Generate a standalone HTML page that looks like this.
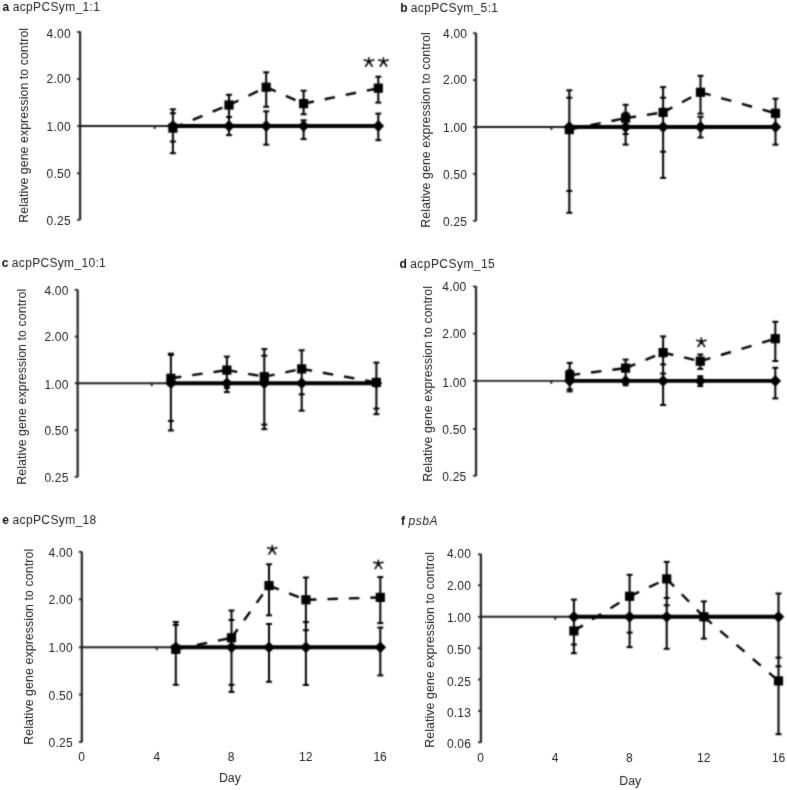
<!DOCTYPE html>
<html><head><meta charset="utf-8"><style>
html,body{margin:0;padding:0;background:#fff;width:787px;height:790px;overflow:hidden;}
svg{display:block;filter:grayscale(1);}
text{font-family:"Liberation Sans", sans-serif;}
</style></head><body>
<svg width="787" height="790" viewBox="0 0 787 790">
<defs><filter id="bl" x="0" y="0" width="787" height="790" filterUnits="userSpaceOnUse" color-interpolation-filters="sRGB"><feConvolveMatrix order="5" edgeMode="duplicate" preserveAlpha="false" kernelMatrix="0.00009 0.00198 0.00548 0.00198 0.00009 0.00198 0.04220 0.11707 0.04220 0.00198 0.00548 0.11707 0.32480 0.11707 0.00548 0.00198 0.04220 0.11707 0.04220 0.00198 0.00009 0.00198 0.00548 0.00198 0.00009"/></filter>
<filter id="bt" x="0" y="0" width="787" height="790" filterUnits="userSpaceOnUse" color-interpolation-filters="sRGB"><feConvolveMatrix order="5" edgeMode="duplicate" preserveAlpha="false" kernelMatrix="0.00000 0.00000 0.00004 0.00000 0.00000 0.00000 0.00524 0.06191 0.00524 0.00000 0.00004 0.06191 0.73124 0.06191 0.00004 0.00000 0.00524 0.06191 0.00524 0.00000 0.00000 0.00000 0.00004 0.00000 0.00000"/></filter></defs>
<rect width="787" height="790" fill="#fff"/>
<g filter="url(#bt)">
<text x="2.6" y="10.6" font-size="12" font-weight="bold" fill="#111">a</text>
<text x="12.7" y="10.6" font-size="12" fill="#222" textLength="87.3" lengthAdjust="spacing">acpPCSym_1:1</text>
<text x="70.6" y="37.65" font-size="12" text-anchor="end" fill="#222" textLength="24" lengthAdjust="spacing">4.00</text>
<text x="70.6" y="83.25" font-size="12" text-anchor="end" fill="#222" textLength="24" lengthAdjust="spacing">2.00</text>
<text x="70.6" y="130.65" font-size="12" text-anchor="end" fill="#222" textLength="24" lengthAdjust="spacing">1.00</text>
<text x="70.6" y="177.8" font-size="12" text-anchor="end" fill="#222" textLength="24" lengthAdjust="spacing">0.50</text>
<text x="70.6" y="225" font-size="12" text-anchor="end" fill="#222" textLength="24" lengthAdjust="spacing">0.25</text>
<text transform="translate(28,222.7) rotate(-90)" font-size="12.4" fill="#222" textLength="194.8" lengthAdjust="spacing">Relative gene expression to control</text>
<text x="400.3" y="11.6" font-size="12" font-weight="bold" fill="#111">b</text>
<text x="410.8" y="11.6" font-size="12" fill="#222" textLength="87.2" lengthAdjust="spacing">acpPCSym_5:1</text>
<text x="467" y="37.65" font-size="12" text-anchor="end" fill="#222" textLength="24" lengthAdjust="spacing">4.00</text>
<text x="467" y="84.15" font-size="12" text-anchor="end" fill="#222" textLength="24" lengthAdjust="spacing">2.00</text>
<text x="467" y="131.65" font-size="12" text-anchor="end" fill="#222" textLength="24" lengthAdjust="spacing">1.00</text>
<text x="467" y="178.6" font-size="12" text-anchor="end" fill="#222" textLength="24" lengthAdjust="spacing">0.50</text>
<text x="467" y="225.65" font-size="12" text-anchor="end" fill="#222" textLength="24" lengthAdjust="spacing">0.25</text>
<text transform="translate(429.8,227.7) rotate(-90)" font-size="12.4" fill="#222" textLength="195.4" lengthAdjust="spacing">Relative gene expression to control</text>
<text x="1.8" y="266.5" font-size="12" font-weight="bold" fill="#111">c</text>
<text x="11.8" y="266.5" font-size="12" fill="#222" textLength="94" lengthAdjust="spacing">acpPCSym_10:1</text>
<text x="68.4" y="294.65" font-size="12" text-anchor="end" fill="#222" textLength="24" lengthAdjust="spacing">4.00</text>
<text x="68.4" y="341.2" font-size="12" text-anchor="end" fill="#222" textLength="24" lengthAdjust="spacing">2.00</text>
<text x="68.4" y="388.85" font-size="12" text-anchor="end" fill="#222" textLength="24" lengthAdjust="spacing">1.00</text>
<text x="68.4" y="434.95" font-size="12" text-anchor="end" fill="#222" textLength="24" lengthAdjust="spacing">0.50</text>
<text x="68.4" y="481.65" font-size="12" text-anchor="end" fill="#222" textLength="24" lengthAdjust="spacing">0.25</text>
<text transform="translate(26.2,484.7) rotate(-90)" font-size="12.4" fill="#222" textLength="195.9" lengthAdjust="spacing">Relative gene expression to control</text>
<text x="399.6" y="267.5" font-size="12" font-weight="bold" fill="#111">d</text>
<text x="410.2" y="267.5" font-size="12" fill="#222" textLength="84.6" lengthAdjust="spacing">acpPCSym_15</text>
<text x="466.3" y="291.2" font-size="12" text-anchor="end" fill="#222" textLength="24" lengthAdjust="spacing">4.00</text>
<text x="466.3" y="337.95" font-size="12" text-anchor="end" fill="#222" textLength="24" lengthAdjust="spacing">2.00</text>
<text x="466.3" y="386.85" font-size="12" text-anchor="end" fill="#222" textLength="24" lengthAdjust="spacing">1.00</text>
<text x="466.3" y="433.95" font-size="12" text-anchor="end" fill="#222" textLength="24" lengthAdjust="spacing">0.50</text>
<text x="466.3" y="480.65" font-size="12" text-anchor="end" fill="#222" textLength="24" lengthAdjust="spacing">0.25</text>
<text transform="translate(431.7,481.8) rotate(-90)" font-size="12.4" fill="#222" textLength="195.8" lengthAdjust="spacing">Relative gene expression to control</text>
<text x="2.3" y="523.9" font-size="12" font-weight="bold" fill="#111">e</text>
<text x="12.5" y="523.9" font-size="12" fill="#222" textLength="83.8" lengthAdjust="spacing">acpPCSym_18</text>
<text x="72.6" y="556.55" font-size="12" text-anchor="end" fill="#222" textLength="24" lengthAdjust="spacing">4.00</text>
<text x="72.6" y="604.35" font-size="12" text-anchor="end" fill="#222" textLength="24" lengthAdjust="spacing">2.00</text>
<text x="72.6" y="652.15" font-size="12" text-anchor="end" fill="#222" textLength="24" lengthAdjust="spacing">1.00</text>
<text x="72.6" y="699.95" font-size="12" text-anchor="end" fill="#222" textLength="24" lengthAdjust="spacing">0.50</text>
<text x="72.6" y="747.1" font-size="12" text-anchor="end" fill="#222" textLength="24" lengthAdjust="spacing">0.25</text>
<text transform="translate(33,744.7) rotate(-90)" font-size="12.4" fill="#222" textLength="195.9" lengthAdjust="spacing">Relative gene expression to control</text>
<text x="81.5" y="760.8" font-size="12" text-anchor="middle" fill="#222">0</text>
<text x="156.8" y="760.8" font-size="12" text-anchor="middle" fill="#222">4</text>
<text x="231.2" y="760.8" font-size="12" text-anchor="middle" fill="#222">8</text>
<text x="305.8" y="760.8" font-size="12" text-anchor="middle" fill="#222">12</text>
<text x="380.1" y="760.8" font-size="12" text-anchor="middle" fill="#222">16</text>
<text x="229.9" y="781.9" font-size="12.3" text-anchor="middle" fill="#222">Day</text>
<text x="401.1" y="524.8" font-size="12" font-weight="bold" fill="#111">f</text>
<text x="408.5" y="524.8" font-size="12" font-style="italic" fill="#222" textLength="29" lengthAdjust="spacing">psbA</text>
<text x="470.9" y="558.4" font-size="12" text-anchor="end" fill="#222" textLength="24" lengthAdjust="spacing">4.00</text>
<text x="470.9" y="589.9" font-size="12" text-anchor="end" fill="#222" textLength="24" lengthAdjust="spacing">2.00</text>
<text x="470.9" y="621.6" font-size="12" text-anchor="end" fill="#222" textLength="24" lengthAdjust="spacing">1.00</text>
<text x="470.9" y="653.85" font-size="12" text-anchor="end" fill="#222" textLength="24" lengthAdjust="spacing">0.50</text>
<text x="470.9" y="685.5" font-size="12" text-anchor="end" fill="#222" textLength="24" lengthAdjust="spacing">0.25</text>
<text x="470.9" y="716.6" font-size="12" text-anchor="end" fill="#222" textLength="24" lengthAdjust="spacing">0.13</text>
<text x="470.9" y="747.85" font-size="12" text-anchor="end" fill="#222" textLength="24" lengthAdjust="spacing">0.06</text>
<text transform="translate(433.5,747.8) rotate(-90)" font-size="12.4" fill="#222" textLength="195.8" lengthAdjust="spacing">Relative gene expression to control</text>
<text x="480.6" y="761.8" font-size="12" text-anchor="middle" fill="#222">0</text>
<text x="555.2" y="761.8" font-size="12" text-anchor="middle" fill="#222">4</text>
<text x="629.3" y="761.8" font-size="12" text-anchor="middle" fill="#222">8</text>
<text x="703.7" y="761.8" font-size="12" text-anchor="middle" fill="#222">12</text>
<text x="778.6" y="761.8" font-size="12" text-anchor="middle" fill="#222">16</text>
<text x="630.2" y="784.9" font-size="12.3" text-anchor="middle" fill="#222">Day</text>
</g>
<g filter="url(#bl)">
<line x1="80.07" y1="31.5" x2="80.07" y2="220" stroke="#222" stroke-width="2.2"/>
<line x1="77.07" y1="32" x2="80.07" y2="32" stroke="#222" stroke-width="1.8"/>
<line x1="77.07" y1="79" x2="80.07" y2="79" stroke="#222" stroke-width="1.8"/>
<line x1="77.07" y1="126" x2="80.07" y2="126" stroke="#222" stroke-width="1.8"/>
<line x1="77.07" y1="173.3" x2="80.07" y2="173.3" stroke="#222" stroke-width="1.8"/>
<line x1="77.07" y1="219.8" x2="80.07" y2="219.8" stroke="#222" stroke-width="1.8"/>
<line x1="80.07" y1="126" x2="378.3" y2="126" stroke="#1a1a1a" stroke-width="1.9"/>
<line x1="154.7" y1="126" x2="154.7" y2="129" stroke="#1a1a1a" stroke-width="1.8"/>
<line x1="172.9" y1="109.3" x2="172.9" y2="153.2" stroke="#000" stroke-width="2.0"/>
<line x1="169.9" y1="109.3" x2="175.9" y2="109.3" stroke="#000" stroke-width="2.0"/>
<line x1="169.9" y1="113.3" x2="175.9" y2="113.3" stroke="#000" stroke-width="2.0"/>
<line x1="169.9" y1="141.5" x2="175.9" y2="141.5" stroke="#000" stroke-width="2.0"/>
<line x1="169.9" y1="153.2" x2="175.9" y2="153.2" stroke="#000" stroke-width="2.0"/>
<line x1="229" y1="94.8" x2="229" y2="135.1" stroke="#000" stroke-width="2.0"/>
<line x1="226" y1="94.8" x2="232" y2="94.8" stroke="#000" stroke-width="2.0"/>
<line x1="226" y1="117" x2="232" y2="117" stroke="#000" stroke-width="2.0"/>
<line x1="226" y1="135.1" x2="232" y2="135.1" stroke="#000" stroke-width="2.0"/>
<line x1="266.2" y1="72.3" x2="266.2" y2="106.8" stroke="#000" stroke-width="2.0"/>
<line x1="266.2" y1="111.3" x2="266.2" y2="144.7" stroke="#000" stroke-width="2.0"/>
<line x1="263.2" y1="72.3" x2="269.2" y2="72.3" stroke="#000" stroke-width="2.0"/>
<line x1="263.2" y1="106.8" x2="269.2" y2="106.8" stroke="#000" stroke-width="2.0"/>
<line x1="263.2" y1="111.3" x2="269.2" y2="111.3" stroke="#000" stroke-width="2.0"/>
<line x1="263.2" y1="144.7" x2="269.2" y2="144.7" stroke="#000" stroke-width="2.0"/>
<line x1="303.6" y1="90.7" x2="303.6" y2="114.3" stroke="#000" stroke-width="2.0"/>
<line x1="303.6" y1="120.3" x2="303.6" y2="139.1" stroke="#000" stroke-width="2.0"/>
<line x1="300.6" y1="90.7" x2="306.6" y2="90.7" stroke="#000" stroke-width="2.0"/>
<line x1="300.6" y1="114.3" x2="306.6" y2="114.3" stroke="#000" stroke-width="2.0"/>
<line x1="300.6" y1="120.3" x2="306.6" y2="120.3" stroke="#000" stroke-width="2.0"/>
<line x1="300.6" y1="139.1" x2="306.6" y2="139.1" stroke="#000" stroke-width="2.0"/>
<line x1="378.3" y1="76.7" x2="378.3" y2="102.6" stroke="#000" stroke-width="2.0"/>
<line x1="378.3" y1="113.6" x2="378.3" y2="140.2" stroke="#000" stroke-width="2.0"/>
<line x1="375.3" y1="76.7" x2="381.3" y2="76.7" stroke="#000" stroke-width="2.0"/>
<line x1="375.3" y1="102.6" x2="381.3" y2="102.6" stroke="#000" stroke-width="2.0"/>
<line x1="375.3" y1="113.6" x2="381.3" y2="113.6" stroke="#000" stroke-width="2.0"/>
<line x1="375.3" y1="140.2" x2="381.3" y2="140.2" stroke="#000" stroke-width="2.0"/>
<polyline points="172.9,126 229,126 266.2,126 303.6,126 378.3,126" fill="none" stroke="#000" stroke-width="3.9"/>
<line x1="172.9" y1="128.1" x2="229" y2="105" stroke="#000" stroke-width="2.4" stroke-dasharray="10.5 11"/>
<line x1="229" y1="105" x2="266.2" y2="87.2" stroke="#000" stroke-width="2.4" stroke-dasharray="10.5 11"/>
<line x1="266.2" y1="87.2" x2="303.6" y2="103.6" stroke="#000" stroke-width="2.4" stroke-dasharray="10.5 11"/>
<line x1="303.6" y1="103.6" x2="378.3" y2="88.2" stroke="#000" stroke-width="2.4" stroke-dasharray="10.5 11"/>
<path d="M167.1 126L172.9 120.1L178.7 126L172.9 131.9Z" fill="#000"/>
<path d="M223.2 126L229 120.1L234.8 126L229 131.9Z" fill="#000"/>
<path d="M260.4 126L266.2 120.1L272 126L266.2 131.9Z" fill="#000"/>
<path d="M297.8 126L303.6 120.1L309.4 126L303.6 131.9Z" fill="#000"/>
<path d="M372.5 126L378.3 120.1L384.1 126L378.3 131.9Z" fill="#000"/>
<rect x="168.3" y="123.5" width="9.2" height="9.2" fill="#000"/>
<rect x="224.4" y="100.4" width="9.2" height="9.2" fill="#000"/>
<rect x="261.6" y="82.6" width="9.2" height="9.2" fill="#000"/>
<rect x="299" y="99" width="9.2" height="9.2" fill="#000"/>
<rect x="373.7" y="83.6" width="9.2" height="9.2" fill="#000"/>
<path d="M368.9 61.2l0 -3.4M368.9 61.2l-4.6 -1.3M368.9 61.2l4.7 -1.3M368.9 61.2l-3.2 5M368.9 61.2l3.3 5" stroke="#000" stroke-width="1.6" stroke-linecap="round" fill="none"/>
<path d="M383.4 61.2l0 -3.4M383.4 61.2l-4.6 -1.3M383.4 61.2l4.7 -1.3M383.4 61.2l-3.2 5M383.4 61.2l3.3 5" stroke="#000" stroke-width="1.6" stroke-linecap="round" fill="none"/>
<line x1="476.03" y1="32.8" x2="476.03" y2="221" stroke="#222" stroke-width="2.2"/>
<line x1="473.03" y1="33.2" x2="476.03" y2="33.2" stroke="#222" stroke-width="1.8"/>
<line x1="473.03" y1="80.1" x2="476.03" y2="80.1" stroke="#222" stroke-width="1.8"/>
<line x1="473.03" y1="127" x2="476.03" y2="127" stroke="#222" stroke-width="1.8"/>
<line x1="473.03" y1="173.9" x2="476.03" y2="173.9" stroke="#222" stroke-width="1.8"/>
<line x1="473.03" y1="220.8" x2="476.03" y2="220.8" stroke="#222" stroke-width="1.8"/>
<line x1="476.03" y1="127" x2="775.5" y2="127" stroke="#1a1a1a" stroke-width="1.9"/>
<line x1="551.4" y1="127" x2="551.4" y2="130" stroke="#1a1a1a" stroke-width="1.8"/>
<line x1="569.3" y1="90.3" x2="569.3" y2="212.8" stroke="#000" stroke-width="2.0"/>
<line x1="566.3" y1="90.3" x2="572.3" y2="90.3" stroke="#000" stroke-width="2.0"/>
<line x1="566.3" y1="97.7" x2="572.3" y2="97.7" stroke="#000" stroke-width="2.0"/>
<line x1="566.3" y1="191" x2="572.3" y2="191" stroke="#000" stroke-width="2.0"/>
<line x1="566.3" y1="212.8" x2="572.3" y2="212.8" stroke="#000" stroke-width="2.0"/>
<line x1="625.6" y1="104.8" x2="625.6" y2="144.6" stroke="#000" stroke-width="2.0"/>
<line x1="622.6" y1="104.8" x2="628.6" y2="104.8" stroke="#000" stroke-width="2.0"/>
<line x1="622.6" y1="112.8" x2="628.6" y2="112.8" stroke="#000" stroke-width="2.0"/>
<line x1="622.6" y1="134" x2="628.6" y2="134" stroke="#000" stroke-width="2.0"/>
<line x1="622.6" y1="144.6" x2="628.6" y2="144.6" stroke="#000" stroke-width="2.0"/>
<line x1="663.1" y1="87.1" x2="663.1" y2="177.9" stroke="#000" stroke-width="2.0"/>
<line x1="660.1" y1="87.1" x2="666.1" y2="87.1" stroke="#000" stroke-width="2.0"/>
<line x1="660.1" y1="97.7" x2="666.1" y2="97.7" stroke="#000" stroke-width="2.0"/>
<line x1="660.1" y1="151.7" x2="666.1" y2="151.7" stroke="#000" stroke-width="2.0"/>
<line x1="660.1" y1="177.9" x2="666.1" y2="177.9" stroke="#000" stroke-width="2.0"/>
<line x1="700.5" y1="75.8" x2="700.5" y2="113.7" stroke="#000" stroke-width="2.0"/>
<line x1="700.5" y1="116.8" x2="700.5" y2="137.5" stroke="#000" stroke-width="2.0"/>
<line x1="697.5" y1="75.8" x2="703.5" y2="75.8" stroke="#000" stroke-width="2.0"/>
<line x1="697.5" y1="113.7" x2="703.5" y2="113.7" stroke="#000" stroke-width="2.0"/>
<line x1="697.5" y1="116.8" x2="703.5" y2="116.8" stroke="#000" stroke-width="2.0"/>
<line x1="697.5" y1="137.5" x2="703.5" y2="137.5" stroke="#000" stroke-width="2.0"/>
<line x1="775.5" y1="98.7" x2="775.5" y2="144.7" stroke="#000" stroke-width="2.0"/>
<line x1="772.5" y1="98.7" x2="778.5" y2="98.7" stroke="#000" stroke-width="2.0"/>
<line x1="772.5" y1="144.7" x2="778.5" y2="144.7" stroke="#000" stroke-width="2.0"/>
<polyline points="569.3,127 625.6,127 663.1,127 700.5,127 775.5,127" fill="none" stroke="#000" stroke-width="3.9"/>
<line x1="569.3" y1="129.6" x2="625.6" y2="118.1" stroke="#000" stroke-width="2.4" stroke-dasharray="10.5 11"/>
<line x1="625.6" y1="118.1" x2="663.1" y2="112.4" stroke="#000" stroke-width="2.4" stroke-dasharray="10.5 11"/>
<line x1="663.1" y1="112.4" x2="700.5" y2="92.3" stroke="#000" stroke-width="2.4" stroke-dasharray="10.5 11"/>
<line x1="700.5" y1="92.3" x2="775.5" y2="113.3" stroke="#000" stroke-width="2.4" stroke-dasharray="10.5 11"/>
<path d="M563.5 127L569.3 121.1L575.1 127L569.3 132.9Z" fill="#000"/>
<path d="M619.8 127L625.6 121.1L631.4 127L625.6 132.9Z" fill="#000"/>
<path d="M657.3 127L663.1 121.1L668.9 127L663.1 132.9Z" fill="#000"/>
<path d="M694.7 127L700.5 121.1L706.3 127L700.5 132.9Z" fill="#000"/>
<path d="M769.7 127L775.5 121.1L781.3 127L775.5 132.9Z" fill="#000"/>
<rect x="564.7" y="125" width="9.2" height="9.2" fill="#000"/>
<rect x="621" y="113.5" width="9.2" height="9.2" fill="#000"/>
<rect x="658.5" y="107.8" width="9.2" height="9.2" fill="#000"/>
<rect x="695.9" y="87.7" width="9.2" height="9.2" fill="#000"/>
<rect x="770.9" y="108.7" width="9.2" height="9.2" fill="#000"/>
<line x1="77.68" y1="289.6" x2="77.68" y2="477.2" stroke="#222" stroke-width="2.2"/>
<line x1="74.68" y1="289.8" x2="77.68" y2="289.8" stroke="#222" stroke-width="1.8"/>
<line x1="74.68" y1="336.6" x2="77.68" y2="336.6" stroke="#222" stroke-width="1.8"/>
<line x1="74.68" y1="383.2" x2="77.68" y2="383.2" stroke="#222" stroke-width="1.8"/>
<line x1="74.68" y1="430.3" x2="77.68" y2="430.3" stroke="#222" stroke-width="1.8"/>
<line x1="74.68" y1="476.8" x2="77.68" y2="476.8" stroke="#222" stroke-width="1.8"/>
<line x1="77.68" y1="383.2" x2="376.4" y2="383.2" stroke="#1a1a1a" stroke-width="1.9"/>
<line x1="151.7" y1="383.2" x2="151.7" y2="386.2" stroke="#1a1a1a" stroke-width="1.8"/>
<line x1="170.9" y1="353.7" x2="170.9" y2="430.5" stroke="#000" stroke-width="2.0"/>
<line x1="167.9" y1="353.7" x2="173.9" y2="353.7" stroke="#000" stroke-width="2.0"/>
<line x1="167.9" y1="354.9" x2="173.9" y2="354.9" stroke="#000" stroke-width="2.0"/>
<line x1="167.9" y1="420.9" x2="173.9" y2="420.9" stroke="#000" stroke-width="2.0"/>
<line x1="167.9" y1="430.5" x2="173.9" y2="430.5" stroke="#000" stroke-width="2.0"/>
<line x1="226.9" y1="356.6" x2="226.9" y2="392.1" stroke="#000" stroke-width="2.0"/>
<line x1="223.9" y1="356.6" x2="229.9" y2="356.6" stroke="#000" stroke-width="2.0"/>
<line x1="223.9" y1="388" x2="229.9" y2="388" stroke="#000" stroke-width="2.0"/>
<line x1="223.9" y1="392.1" x2="229.9" y2="392.1" stroke="#000" stroke-width="2.0"/>
<line x1="264.3" y1="349.1" x2="264.3" y2="429.2" stroke="#000" stroke-width="2.0"/>
<line x1="261.3" y1="349.1" x2="267.3" y2="349.1" stroke="#000" stroke-width="2.0"/>
<line x1="261.3" y1="355.7" x2="267.3" y2="355.7" stroke="#000" stroke-width="2.0"/>
<line x1="261.3" y1="424.6" x2="267.3" y2="424.6" stroke="#000" stroke-width="2.0"/>
<line x1="261.3" y1="429.2" x2="267.3" y2="429.2" stroke="#000" stroke-width="2.0"/>
<line x1="301.7" y1="350.3" x2="301.7" y2="410.7" stroke="#000" stroke-width="2.0"/>
<line x1="298.7" y1="350.3" x2="304.7" y2="350.3" stroke="#000" stroke-width="2.0"/>
<line x1="298.7" y1="394.3" x2="304.7" y2="394.3" stroke="#000" stroke-width="2.0"/>
<line x1="298.7" y1="410.7" x2="304.7" y2="410.7" stroke="#000" stroke-width="2.0"/>
<line x1="376.4" y1="362.6" x2="376.4" y2="414.2" stroke="#000" stroke-width="2.0"/>
<line x1="373.4" y1="362.6" x2="379.4" y2="362.6" stroke="#000" stroke-width="2.0"/>
<line x1="373.4" y1="408.6" x2="379.4" y2="408.6" stroke="#000" stroke-width="2.0"/>
<line x1="373.4" y1="414.2" x2="379.4" y2="414.2" stroke="#000" stroke-width="2.0"/>
<polyline points="170.9,383.2 226.9,383.2 264.3,383.2 301.7,383.2 376.4,383.2" fill="none" stroke="#000" stroke-width="3.9"/>
<line x1="170.9" y1="378.3" x2="226.9" y2="370.1" stroke="#000" stroke-width="2.4" stroke-dasharray="10.5 11"/>
<line x1="226.9" y1="370.1" x2="264.3" y2="376.7" stroke="#000" stroke-width="2.4" stroke-dasharray="10.5 11"/>
<line x1="264.3" y1="376.7" x2="301.7" y2="368.9" stroke="#000" stroke-width="2.4" stroke-dasharray="10.5 11"/>
<line x1="301.7" y1="368.9" x2="376.4" y2="382.4" stroke="#000" stroke-width="2.4" stroke-dasharray="10.5 11"/>
<path d="M165.1 383.2L170.9 377.3L176.7 383.2L170.9 389.1Z" fill="#000"/>
<path d="M221.1 383.2L226.9 377.3L232.7 383.2L226.9 389.1Z" fill="#000"/>
<path d="M258.5 383.2L264.3 377.3L270.1 383.2L264.3 389.1Z" fill="#000"/>
<path d="M295.9 383.2L301.7 377.3L307.5 383.2L301.7 389.1Z" fill="#000"/>
<path d="M370.6 383.2L376.4 377.3L382.2 383.2L376.4 389.1Z" fill="#000"/>
<rect x="166.3" y="373.7" width="9.2" height="9.2" fill="#000"/>
<rect x="222.3" y="365.5" width="9.2" height="9.2" fill="#000"/>
<rect x="259.7" y="372.1" width="9.2" height="9.2" fill="#000"/>
<rect x="297.1" y="364.3" width="9.2" height="9.2" fill="#000"/>
<rect x="371.8" y="377.8" width="9.2" height="9.2" fill="#000"/>
<line x1="476.03" y1="286" x2="476.03" y2="476.2" stroke="#222" stroke-width="2.2"/>
<line x1="473.03" y1="286.5" x2="476.03" y2="286.5" stroke="#222" stroke-width="1.8"/>
<line x1="473.03" y1="333.6" x2="476.03" y2="333.6" stroke="#222" stroke-width="1.8"/>
<line x1="473.03" y1="380.9" x2="476.03" y2="380.9" stroke="#222" stroke-width="1.8"/>
<line x1="473.03" y1="428.9" x2="476.03" y2="428.9" stroke="#222" stroke-width="1.8"/>
<line x1="473.03" y1="475.7" x2="476.03" y2="475.7" stroke="#222" stroke-width="1.8"/>
<line x1="476.03" y1="380.9" x2="775.3" y2="380.9" stroke="#1a1a1a" stroke-width="1.9"/>
<line x1="551.3" y1="380.9" x2="551.3" y2="383.9" stroke="#1a1a1a" stroke-width="1.8"/>
<line x1="569.7" y1="362.9" x2="569.7" y2="391.4" stroke="#000" stroke-width="2.0"/>
<line x1="566.7" y1="362.9" x2="572.7" y2="362.9" stroke="#000" stroke-width="2.0"/>
<line x1="566.7" y1="370.3" x2="572.7" y2="370.3" stroke="#000" stroke-width="2.0"/>
<line x1="566.7" y1="389.3" x2="572.7" y2="389.3" stroke="#000" stroke-width="2.0"/>
<line x1="566.7" y1="391.4" x2="572.7" y2="391.4" stroke="#000" stroke-width="2.0"/>
<line x1="625.6" y1="359.6" x2="625.6" y2="385.2" stroke="#000" stroke-width="2.0"/>
<line x1="622.6" y1="359.6" x2="628.6" y2="359.6" stroke="#000" stroke-width="2.0"/>
<line x1="622.6" y1="385.2" x2="628.6" y2="385.2" stroke="#000" stroke-width="2.0"/>
<line x1="663.1" y1="336.4" x2="663.1" y2="405" stroke="#000" stroke-width="2.0"/>
<line x1="660.1" y1="336.4" x2="666.1" y2="336.4" stroke="#000" stroke-width="2.0"/>
<line x1="660.1" y1="364.4" x2="666.1" y2="364.4" stroke="#000" stroke-width="2.0"/>
<line x1="660.1" y1="373.6" x2="666.1" y2="373.6" stroke="#000" stroke-width="2.0"/>
<line x1="660.1" y1="405" x2="666.1" y2="405" stroke="#000" stroke-width="2.0"/>
<line x1="700.3" y1="354.5" x2="700.3" y2="368.9" stroke="#000" stroke-width="2.0"/>
<line x1="700.3" y1="376.3" x2="700.3" y2="386.1" stroke="#000" stroke-width="2.0"/>
<line x1="697.3" y1="354.5" x2="703.3" y2="354.5" stroke="#000" stroke-width="2.0"/>
<line x1="697.3" y1="368.9" x2="703.3" y2="368.9" stroke="#000" stroke-width="2.0"/>
<line x1="697.3" y1="376.3" x2="703.3" y2="376.3" stroke="#000" stroke-width="2.0"/>
<line x1="697.3" y1="386.1" x2="703.3" y2="386.1" stroke="#000" stroke-width="2.0"/>
<line x1="775.3" y1="321.8" x2="775.3" y2="361" stroke="#000" stroke-width="2.0"/>
<line x1="775.3" y1="367.8" x2="775.3" y2="398.4" stroke="#000" stroke-width="2.0"/>
<line x1="772.3" y1="321.8" x2="778.3" y2="321.8" stroke="#000" stroke-width="2.0"/>
<line x1="772.3" y1="361" x2="778.3" y2="361" stroke="#000" stroke-width="2.0"/>
<line x1="772.3" y1="367.8" x2="778.3" y2="367.8" stroke="#000" stroke-width="2.0"/>
<line x1="772.3" y1="398.4" x2="778.3" y2="398.4" stroke="#000" stroke-width="2.0"/>
<polyline points="569.7,380.9 625.6,380.9 663.1,380.9 700.3,380.9 775.3,380.9" fill="none" stroke="#000" stroke-width="3.9"/>
<line x1="569.7" y1="375.2" x2="625.6" y2="368.1" stroke="#000" stroke-width="2.4" stroke-dasharray="10.5 11"/>
<line x1="625.6" y1="368.1" x2="663.1" y2="352.6" stroke="#000" stroke-width="2.4" stroke-dasharray="10.5 11"/>
<line x1="663.1" y1="352.6" x2="700.3" y2="361.2" stroke="#000" stroke-width="2.4" stroke-dasharray="10.5 11"/>
<line x1="700.3" y1="361.2" x2="775.3" y2="338.7" stroke="#000" stroke-width="2.4" stroke-dasharray="10.5 11"/>
<path d="M563.9 380.9L569.7 375L575.5 380.9L569.7 386.8Z" fill="#000"/>
<path d="M619.8 380.9L625.6 375L631.4 380.9L625.6 386.8Z" fill="#000"/>
<path d="M657.3 380.9L663.1 375L668.9 380.9L663.1 386.8Z" fill="#000"/>
<path d="M694.5 380.9L700.3 375L706.1 380.9L700.3 386.8Z" fill="#000"/>
<path d="M769.5 380.9L775.3 375L781.1 380.9L775.3 386.8Z" fill="#000"/>
<rect x="565.1" y="370.6" width="9.2" height="9.2" fill="#000"/>
<rect x="621" y="363.5" width="9.2" height="9.2" fill="#000"/>
<rect x="658.5" y="348" width="9.2" height="9.2" fill="#000"/>
<rect x="695.7" y="356.6" width="9.2" height="9.2" fill="#000"/>
<rect x="770.7" y="334.1" width="9.2" height="9.2" fill="#000"/>
<path d="M701.35 341.5l0 -3.4M701.35 341.5l-4.6 -1.3M701.35 341.5l4.7 -1.3M701.35 341.5l-3.2 5M701.35 341.5l3.3 5" stroke="#000" stroke-width="1.6" stroke-linecap="round" fill="none"/>
<line x1="81.83" y1="551.8" x2="81.83" y2="742.4" stroke="#222" stroke-width="2.2"/>
<line x1="78.83" y1="551.8" x2="81.83" y2="551.8" stroke="#222" stroke-width="1.8"/>
<line x1="78.83" y1="599.3" x2="81.83" y2="599.3" stroke="#222" stroke-width="1.8"/>
<line x1="78.83" y1="647.3" x2="81.83" y2="647.3" stroke="#222" stroke-width="1.8"/>
<line x1="78.83" y1="694.5" x2="81.83" y2="694.5" stroke="#222" stroke-width="1.8"/>
<line x1="78.83" y1="742" x2="81.83" y2="742" stroke="#222" stroke-width="1.8"/>
<line x1="81.83" y1="647.3" x2="380.3" y2="647.3" stroke="#1a1a1a" stroke-width="1.9"/>
<line x1="156.8" y1="647.3" x2="156.8" y2="650.3" stroke="#1a1a1a" stroke-width="1.8"/>
<line x1="175.8" y1="622" x2="175.8" y2="684.8" stroke="#000" stroke-width="2.0"/>
<line x1="172.8" y1="622" x2="178.8" y2="622" stroke="#000" stroke-width="2.0"/>
<line x1="172.8" y1="625" x2="178.8" y2="625" stroke="#000" stroke-width="2.0"/>
<line x1="172.8" y1="684.8" x2="178.8" y2="684.8" stroke="#000" stroke-width="2.0"/>
<line x1="231.5" y1="610.5" x2="231.5" y2="691.9" stroke="#000" stroke-width="2.0"/>
<line x1="228.5" y1="610.5" x2="234.5" y2="610.5" stroke="#000" stroke-width="2.0"/>
<line x1="228.5" y1="620" x2="234.5" y2="620" stroke="#000" stroke-width="2.0"/>
<line x1="228.5" y1="684.8" x2="234.5" y2="684.8" stroke="#000" stroke-width="2.0"/>
<line x1="228.5" y1="691.9" x2="234.5" y2="691.9" stroke="#000" stroke-width="2.0"/>
<line x1="269" y1="564.3" x2="269" y2="615.3" stroke="#000" stroke-width="2.0"/>
<line x1="269" y1="624" x2="269" y2="681.8" stroke="#000" stroke-width="2.0"/>
<line x1="266" y1="564.3" x2="272" y2="564.3" stroke="#000" stroke-width="2.0"/>
<line x1="266" y1="615.3" x2="272" y2="615.3" stroke="#000" stroke-width="2.0"/>
<line x1="266" y1="624" x2="272" y2="624" stroke="#000" stroke-width="2.0"/>
<line x1="266" y1="681.8" x2="272" y2="681.8" stroke="#000" stroke-width="2.0"/>
<line x1="305.9" y1="577.5" x2="305.9" y2="685" stroke="#000" stroke-width="2.0"/>
<line x1="302.9" y1="577.5" x2="308.9" y2="577.5" stroke="#000" stroke-width="2.0"/>
<line x1="302.9" y1="622.1" x2="308.9" y2="622.1" stroke="#000" stroke-width="2.0"/>
<line x1="302.9" y1="630.2" x2="308.9" y2="630.2" stroke="#000" stroke-width="2.0"/>
<line x1="302.9" y1="685" x2="308.9" y2="685" stroke="#000" stroke-width="2.0"/>
<line x1="380.3" y1="577.1" x2="380.3" y2="623.1" stroke="#000" stroke-width="2.0"/>
<line x1="380.3" y1="627.6" x2="380.3" y2="675.4" stroke="#000" stroke-width="2.0"/>
<line x1="377.3" y1="577.1" x2="383.3" y2="577.1" stroke="#000" stroke-width="2.0"/>
<line x1="377.3" y1="623.1" x2="383.3" y2="623.1" stroke="#000" stroke-width="2.0"/>
<line x1="377.3" y1="627.6" x2="383.3" y2="627.6" stroke="#000" stroke-width="2.0"/>
<line x1="377.3" y1="675.4" x2="383.3" y2="675.4" stroke="#000" stroke-width="2.0"/>
<polyline points="175.8,647.3 231.5,647.3 269,647.3 305.9,647.3 380.3,647.3" fill="none" stroke="#000" stroke-width="3.9"/>
<line x1="175.8" y1="649.4" x2="231.5" y2="637.8" stroke="#000" stroke-width="2.4" stroke-dasharray="10.5 11"/>
<line x1="231.5" y1="637.8" x2="269" y2="585.6" stroke="#000" stroke-width="2.4" stroke-dasharray="10.5 11"/>
<line x1="269" y1="585.6" x2="305.9" y2="599.8" stroke="#000" stroke-width="2.4" stroke-dasharray="10.5 11"/>
<line x1="305.9" y1="599.8" x2="380.3" y2="597.4" stroke="#000" stroke-width="2.4" stroke-dasharray="10.5 11"/>
<path d="M170 647.3L175.8 641.4L181.6 647.3L175.8 653.2Z" fill="#000"/>
<path d="M225.7 647.3L231.5 641.4L237.3 647.3L231.5 653.2Z" fill="#000"/>
<path d="M263.2 647.3L269 641.4L274.8 647.3L269 653.2Z" fill="#000"/>
<path d="M300.1 647.3L305.9 641.4L311.7 647.3L305.9 653.2Z" fill="#000"/>
<path d="M374.5 647.3L380.3 641.4L386.1 647.3L380.3 653.2Z" fill="#000"/>
<rect x="171.2" y="644.8" width="9.2" height="9.2" fill="#000"/>
<rect x="226.9" y="633.2" width="9.2" height="9.2" fill="#000"/>
<rect x="264.4" y="581" width="9.2" height="9.2" fill="#000"/>
<rect x="301.3" y="595.2" width="9.2" height="9.2" fill="#000"/>
<rect x="375.7" y="592.8" width="9.2" height="9.2" fill="#000"/>
<path d="M272.2 549l0 -3.4M272.2 549l-4.6 -1.3M272.2 549l4.7 -1.3M272.2 549l-3.2 5M272.2 549l3.3 5" stroke="#000" stroke-width="1.6" stroke-linecap="round" fill="none"/>
<path d="M378.35 563.6l0 -3.4M378.35 563.6l-4.6 -1.3M378.35 563.6l4.7 -1.3M378.35 563.6l-3.2 5M378.35 563.6l3.3 5" stroke="#000" stroke-width="1.6" stroke-linecap="round" fill="none"/>
<line x1="480.94" y1="553.8" x2="480.94" y2="742.6" stroke="#222" stroke-width="2.2"/>
<line x1="477.94" y1="554.3" x2="480.94" y2="554.3" stroke="#222" stroke-width="1.8"/>
<line x1="477.94" y1="585.2" x2="480.94" y2="585.2" stroke="#222" stroke-width="1.8"/>
<line x1="477.94" y1="616.8" x2="480.94" y2="616.8" stroke="#222" stroke-width="1.8"/>
<line x1="477.94" y1="648.2" x2="480.94" y2="648.2" stroke="#222" stroke-width="1.8"/>
<line x1="477.94" y1="679.5" x2="480.94" y2="679.5" stroke="#222" stroke-width="1.8"/>
<line x1="477.94" y1="711" x2="480.94" y2="711" stroke="#222" stroke-width="1.8"/>
<line x1="477.94" y1="742.3" x2="480.94" y2="742.3" stroke="#222" stroke-width="1.8"/>
<line x1="480.94" y1="616.8" x2="778.5" y2="616.8" stroke="#1a1a1a" stroke-width="1.9"/>
<line x1="555.3" y1="616.8" x2="555.3" y2="619.8" stroke="#1a1a1a" stroke-width="1.8"/>
<line x1="573.9" y1="599.6" x2="573.9" y2="653.2" stroke="#000" stroke-width="2.0"/>
<line x1="570.9" y1="599.6" x2="576.9" y2="599.6" stroke="#000" stroke-width="2.0"/>
<line x1="570.9" y1="644.5" x2="576.9" y2="644.5" stroke="#000" stroke-width="2.0"/>
<line x1="570.9" y1="653.2" x2="576.9" y2="653.2" stroke="#000" stroke-width="2.0"/>
<line x1="629.6" y1="574.8" x2="629.6" y2="647.1" stroke="#000" stroke-width="2.0"/>
<line x1="626.6" y1="574.8" x2="632.6" y2="574.8" stroke="#000" stroke-width="2.0"/>
<line x1="626.6" y1="632.6" x2="632.6" y2="632.6" stroke="#000" stroke-width="2.0"/>
<line x1="626.6" y1="647.1" x2="632.6" y2="647.1" stroke="#000" stroke-width="2.0"/>
<line x1="666.7" y1="561.9" x2="666.7" y2="648.8" stroke="#000" stroke-width="2.0"/>
<line x1="663.7" y1="561.9" x2="669.7" y2="561.9" stroke="#000" stroke-width="2.0"/>
<line x1="663.7" y1="597.9" x2="669.7" y2="597.9" stroke="#000" stroke-width="2.0"/>
<line x1="663.7" y1="605.3" x2="669.7" y2="605.3" stroke="#000" stroke-width="2.0"/>
<line x1="663.7" y1="648.8" x2="669.7" y2="648.8" stroke="#000" stroke-width="2.0"/>
<line x1="703.9" y1="601.4" x2="703.9" y2="638.6" stroke="#000" stroke-width="2.0"/>
<line x1="700.9" y1="601.4" x2="706.9" y2="601.4" stroke="#000" stroke-width="2.0"/>
<line x1="700.9" y1="638.6" x2="706.9" y2="638.6" stroke="#000" stroke-width="2.0"/>
<line x1="778.5" y1="593.5" x2="778.5" y2="734.2" stroke="#000" stroke-width="2.0"/>
<line x1="775.5" y1="593.5" x2="781.5" y2="593.5" stroke="#000" stroke-width="2.0"/>
<line x1="775.5" y1="657.6" x2="781.5" y2="657.6" stroke="#000" stroke-width="2.0"/>
<line x1="775.5" y1="666.3" x2="781.5" y2="666.3" stroke="#000" stroke-width="2.0"/>
<line x1="775.5" y1="734.2" x2="781.5" y2="734.2" stroke="#000" stroke-width="2.0"/>
<polyline points="573.9,616.8 629.6,616.8 666.7,616.8 703.9,616.8 778.5,616.8" fill="none" stroke="#000" stroke-width="3.9"/>
<line x1="573.9" y1="630.9" x2="629.6" y2="596.3" stroke="#000" stroke-width="2.4" stroke-dasharray="10.5 11"/>
<line x1="629.6" y1="596.3" x2="666.7" y2="578.9" stroke="#000" stroke-width="2.4" stroke-dasharray="10.5 11"/>
<line x1="666.7" y1="578.9" x2="703.9" y2="616.8" stroke="#000" stroke-width="2.4" stroke-dasharray="10.5 11"/>
<line x1="703.9" y1="616.8" x2="778.5" y2="680.9" stroke="#000" stroke-width="2.4" stroke-dasharray="10.5 11"/>
<path d="M568.1 616.8L573.9 610.9L579.7 616.8L573.9 622.7Z" fill="#000"/>
<path d="M623.8 616.8L629.6 610.9L635.4 616.8L629.6 622.7Z" fill="#000"/>
<path d="M660.9 616.8L666.7 610.9L672.5 616.8L666.7 622.7Z" fill="#000"/>
<path d="M698.1 616.8L703.9 610.9L709.7 616.8L703.9 622.7Z" fill="#000"/>
<path d="M772.7 616.8L778.5 610.9L784.3 616.8L778.5 622.7Z" fill="#000"/>
<rect x="569.3" y="626.3" width="9.2" height="9.2" fill="#000"/>
<rect x="625" y="591.7" width="9.2" height="9.2" fill="#000"/>
<rect x="662.1" y="574.3" width="9.2" height="9.2" fill="#000"/>
<rect x="699.3" y="612.2" width="9.2" height="9.2" fill="#000"/>
<rect x="773.9" y="676.3" width="9.2" height="9.2" fill="#000"/>
</g>
</svg>
</body></html>
